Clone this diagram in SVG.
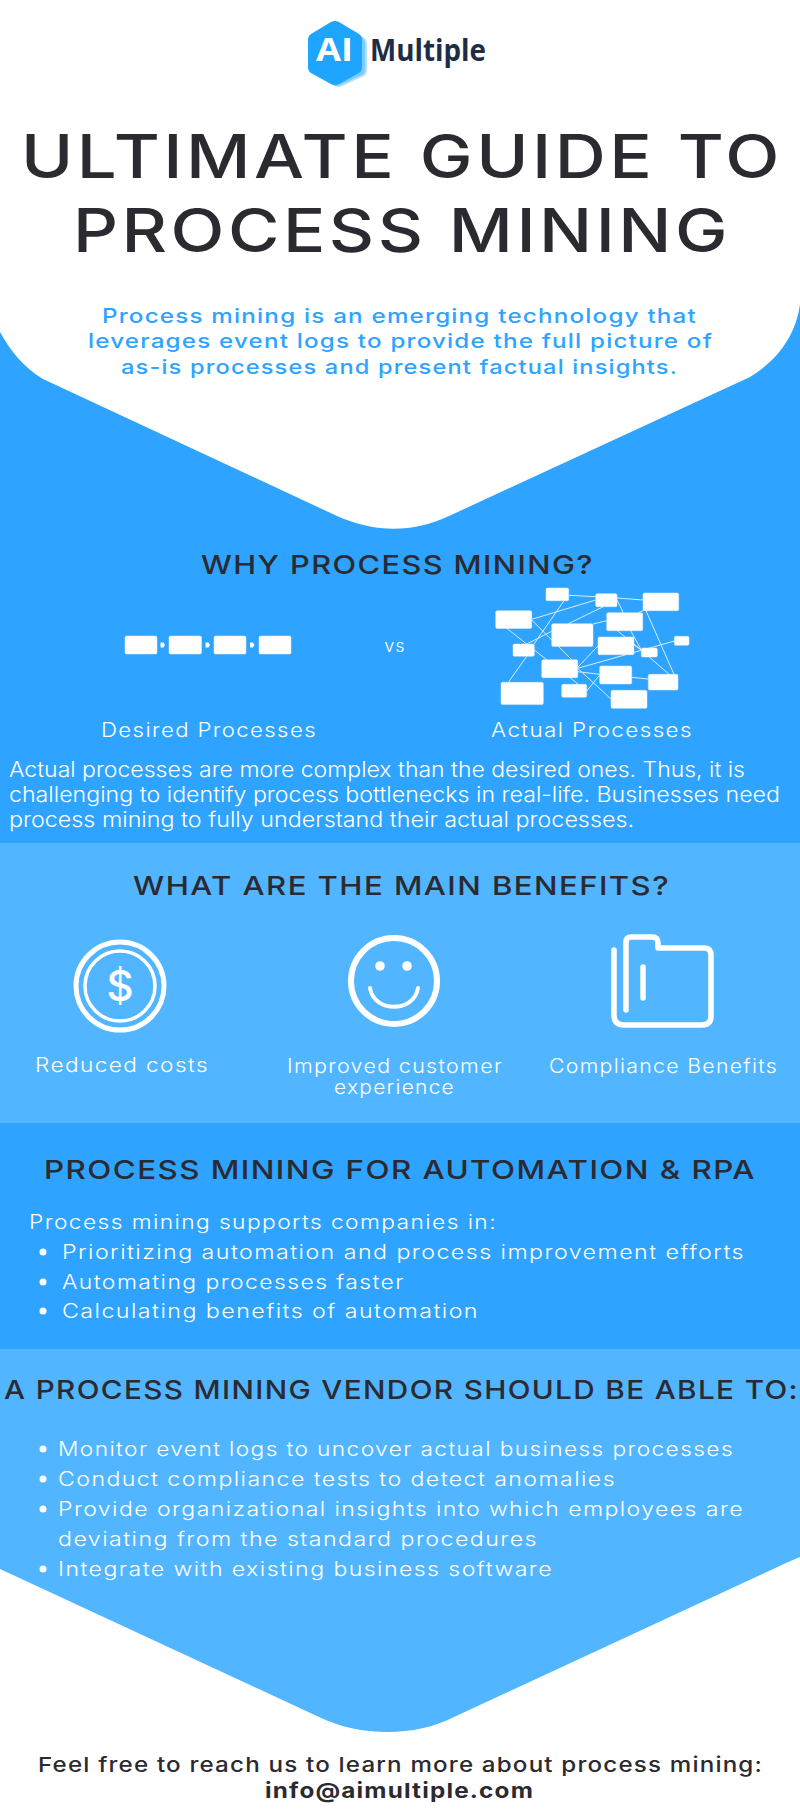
<svg xmlns="http://www.w3.org/2000/svg" width="800" height="1814" viewBox="0 0 800 1814">
<style>
text{font-family:Inter,"Liberation Sans",sans-serif}
.title{font-size:60px;font-weight:450;fill:#2b2a30;letter-spacing:3px}
.h2{font-size:26px;font-weight:500;fill:#2b2a30;letter-spacing:1.200px}
.sub{font-size:20px;font-weight:450;fill:#2ea3ff;letter-spacing:1px}
.body{font-size:19.500px;font-weight:300;fill:#fff;letter-spacing:1.200px}
.para{font-size:21px;letter-spacing:0}
.foot{font-size:20.500px;font-weight:500;fill:#2b2a30;letter-spacing:1px}
.box{fill:#fff;stroke:#e4eef6;stroke-width:.5}
.lnk{stroke:#d6edff;stroke-width:1;fill:none}
.ico{fill:none;stroke:#fff;stroke-linecap:round;stroke-linejoin:round}
.dot{fill:#fff}
</style>
<rect width="800" height="1814" fill="#fff"/>
<g id="section-why">
<path d="M0 332C10 350 24 368 43 379L337 516C375 533 413 533 449 516L750 377C778 360 796 335 800 304V843H0Z" fill="#2ea3ff"/>
</g>
<g id="section-benefits"><rect y="843" width="800" height="280" fill="#52b5ff"/></g>
<g id="section-automation"><rect y="1123" width="800" height="226" fill="#2ea3ff"/></g>
<g id="section-vendor">
<path d="M0 1349H800V1557L786 1563L454 1717C415 1737 360 1737 319 1717L0 1569Z" fill="#52b5ff"/>
</g>
<g id="logo">
<path d="M338 23L364 38Q367 40 367 44V70Q367 74 364 76L342 86Q339 88 335 86L313 73Q310 71 310 67V40Z" fill="#b5e1ff"/>
<path d="M336 22L362 37Q365 39 365 43V69Q365 73 362 75L340 85Q337 87 333 85L312 72Q309 70 309 66V39Z" fill="#7ccbff"/>
<path d="M331 22Q335 20 339 22L359 34Q362 36 362 40V67Q362 71 359 73L339 84Q335 86 331 84L311 73Q308 71 308 67V40Q308 36 311 34Z" fill="#1ea5ff"/>
<text x="316" y="61" font-size="32" font-weight="700" fill="#fff" textLength="37" lengthAdjust="spacingAndGlyphs" style="font-family:'Open Sans',sans-serif">AI</text>
<text x="370" y="61" font-size="31" font-weight="700" fill="#1e2d45" textLength="116" lengthAdjust="spacingAndGlyphs" style="font-family:'Open Sans',sans-serif">Multiple</text>
</g>
<g id="title">
<text class="title" x="21" y="178" textLength="762" lengthAdjust="spacingAndGlyphs">ULTIMATE GUIDE TO</text>
<text class="title" x="73" y="252" textLength="658" lengthAdjust="spacingAndGlyphs">PROCESS MINING</text>
</g>
<g id="intro">
<text class="sub" x="102" y="322.500" textLength="595" lengthAdjust="spacingAndGlyphs">Process mining is an emerging technology that</text>
<text class="sub" x="88" y="348" textLength="625" lengthAdjust="spacingAndGlyphs">leverages event logs to provide the full picture of</text>
<text class="sub" x="121" y="374" textLength="557" lengthAdjust="spacingAndGlyphs">as-is processes and present factual insights.</text>
</g>
<text id="why-heading" class="h2" x="201" y="574" textLength="393" lengthAdjust="spacingAndGlyphs">WHY PROCESS MINING?</text>
<g id="connectors">
<g class="lnk">
<line x1="568.700" y1="595.300" x2="595.700" y2="596.700"/>
<line x1="617" y1="598" x2="643" y2="600"/>
<line x1="564" y1="600.700" x2="534" y2="644"/>
<line x1="531.700" y1="619.300" x2="595.700" y2="600"/>
<line x1="568.300" y1="623.700" x2="603.300" y2="606.700"/>
<line x1="617" y1="600" x2="623.300" y2="612.700"/>
<line x1="638.300" y1="612.700" x2="643" y2="610.700"/>
<line x1="593" y1="624" x2="606.700" y2="620.700"/>
<line x1="506.700" y1="628.300" x2="526.700" y2="644"/>
<line x1="531.700" y1="620" x2="551.700" y2="640"/>
<line x1="526.700" y1="644" x2="551.700" y2="631.300"/>
<line x1="526.700" y1="656.300" x2="508.300" y2="682.300"/>
<line x1="534.300" y1="650" x2="546.700" y2="659.700"/>
<line x1="558.300" y1="646.300" x2="571.700" y2="659.700"/>
<line x1="577.700" y1="667.300" x2="598" y2="646"/>
<line x1="577.700" y1="668.300" x2="674.300" y2="641"/>
<line x1="577.700" y1="671.700" x2="599.700" y2="674.300"/>
<line x1="570" y1="677.700" x2="578.300" y2="684.300"/>
<line x1="577.700" y1="668.300" x2="611" y2="699"/>
<line x1="586.700" y1="691" x2="599.700" y2="675"/>
<line x1="631.700" y1="677.300" x2="648.300" y2="679"/>
<line x1="617.300" y1="630.700" x2="641.300" y2="650"/>
<line x1="630.700" y1="630.700" x2="641.300" y2="650"/>
<line x1="649.300" y1="657" x2="669" y2="674.300"/>
<line x1="646" y1="610.700" x2="674" y2="674.300"/>
<line x1="634" y1="645" x2="641.300" y2="650"/>
</g>
<g fill="#fff">
<path d="M160.500 642.500h3l1.500 2.500l-1.500 2.500h-3z"/>
<path d="M205.500 642.500h3l1.500 2.500l-1.500 2.500h-3z"/>
<path d="M250 642.500h3l1.500 2.500l-1.500 2.500h-3z"/>
</g>
</g>
<g id="desired-1"><rect class="box" x="125" y="636" width="32" height="18" rx="1.500"/></g>
<g id="desired-2"><rect class="box" x="169" y="636" width="32.500" height="18" rx="1.500"/></g>
<g id="desired-3"><rect class="box" x="214" y="636" width="32" height="18" rx="1.500"/></g>
<g id="desired-4"><rect class="box" x="259" y="636" width="32" height="18" rx="1.500"/></g>
<text id="vs" class="body" x="395" y="652" text-anchor="middle" style="font-size:18px;letter-spacing:1px">vs</text>
<g id="actual-a"><rect class="box" x="546" y="588" width="22.700" height="12.700" rx="1.500"/></g>
<g id="actual-b"><rect class="box" x="595.700" y="593.700" width="21.300" height="13" rx="1.500"/></g>
<g id="actual-c"><rect class="box" x="643" y="593" width="35.700" height="17.700" rx="1.500"/></g>
<g id="actual-d"><rect class="box" x="495.700" y="610.700" width="36" height="17.700" rx="1.500"/></g>
<g id="actual-e"><rect class="box" x="606.700" y="612.700" width="36" height="18" rx="1.500"/></g>
<g id="actual-f"><rect class="box" x="551.700" y="623.700" width="41.300" height="22.700" rx="1.500"/></g>
<g id="actual-g"><rect class="box" x="598" y="637" width="36" height="17.700" rx="1.500"/></g>
<g id="actual-h"><rect class="box" x="674.300" y="636.300" width="14.700" height="9" rx="1.500"/></g>
<g id="actual-i"><rect class="box" x="513" y="644" width="21.300" height="12.300" rx="1.500"/></g>
<g id="actual-j"><rect class="box" x="641.300" y="648" width="16" height="9" rx="1.500"/></g>
<g id="actual-k"><rect class="box" x="541.700" y="659.700" width="36" height="18" rx="1.500"/></g>
<g id="actual-l"><rect class="box" x="599.700" y="666" width="32" height="18" rx="1.500"/></g>
<g id="actual-m"><rect class="box" x="648.300" y="674.300" width="29.700" height="15.700" rx="1.500"/></g>
<g id="actual-n"><rect class="box" x="561.700" y="684.300" width="25" height="13" rx="1.500"/></g>
<g id="actual-o"><rect class="box" x="501" y="682.300" width="42.300" height="22.300" rx="1.500"/></g>
<g id="actual-p"><rect class="box" x="611" y="690.300" width="36" height="18" rx="1.500"/></g>
<g id="why-labels">
<text class="body" x="101" y="737" textLength="216" lengthAdjust="spacingAndGlyphs">Desired Processes</text>
<text class="body" x="491" y="737" textLength="202" lengthAdjust="spacingAndGlyphs">Actual Processes</text>
<text class="body para" x="9" y="777" textLength="736" lengthAdjust="spacingAndGlyphs">Actual processes are more complex than the desired ones. Thus, it is</text>
<text class="body para" x="9" y="802" textLength="771" lengthAdjust="spacingAndGlyphs">challenging to identify process bottlenecks in real-life. Businesses need</text>
<text class="body para" x="9" y="827" textLength="625" lengthAdjust="spacingAndGlyphs">process mining to fully understand their actual processes.</text>
</g>
<text id="benefits-heading" class="h2" x="133" y="895" textLength="537" lengthAdjust="spacingAndGlyphs">WHAT ARE THE MAIN BENEFITS?</text>
<g id="benefit-costs">
<circle class="ico" cx="120" cy="986" r="44" stroke-width="5"/>
<circle class="ico" cx="120" cy="986" r="35" stroke-width="3.500"/>
<text x="120" y="1001" text-anchor="middle" font-size="42" font-weight="500" fill="#fff">$</text>
<text class="body" x="35" y="1072" textLength="174" lengthAdjust="spacingAndGlyphs">Reduced costs</text>
</g>
<g id="benefit-customer">
<circle class="ico" cx="394" cy="981" r="43" stroke-width="6"/>
<circle class="dot" cx="380" cy="966" r="4.800"/>
<circle class="dot" cx="407" cy="966" r="4.800"/>
<path class="ico" d="M370 988C374 1013 414 1013 418 988" stroke-width="4"/>
<text class="body" x="287" y="1073" textLength="216" lengthAdjust="spacingAndGlyphs">Improved customer</text>
<text class="body" x="334" y="1094" textLength="121" lengthAdjust="spacingAndGlyphs">experience</text>
</g>
<g id="benefit-compliance">
<path class="ico" d="M614 950V1015Q614 1025 624 1025H702Q711 1025 711 1016V955Q711 948 704 948H658V943Q658 937 652 937H631Q626 937 626 942V1010" stroke-width="5.500"/>
<path class="ico" d="M643 967V998" stroke-width="5.500"/>
<text class="body" x="549" y="1073" textLength="229" lengthAdjust="spacingAndGlyphs">Compliance Benefits</text>
</g>
<g id="automation">
<text class="h2" x="44" y="1179" textLength="712" lengthAdjust="spacingAndGlyphs">PROCESS MINING FOR AUTOMATION &amp; RPA</text>
<text class="body" x="29" y="1229" textLength="468" lengthAdjust="spacingAndGlyphs">Process mining supports companies in:</text>
<circle class="dot" cx="43" cy="1252" r="3.500"/>
<text class="body" x="62" y="1259" textLength="683" lengthAdjust="spacingAndGlyphs">Prioritizing automation and process improvement efforts</text>
<circle class="dot" cx="43" cy="1282" r="3.500"/>
<text class="body" x="62" y="1289" textLength="343" lengthAdjust="spacingAndGlyphs">Automating processes faster</text>
<circle class="dot" cx="43" cy="1311" r="3.500"/>
<text class="body" x="62" y="1318" textLength="417" lengthAdjust="spacingAndGlyphs">Calculating benefits of automation</text>
</g>
<g id="vendor">
<text class="h2" x="4" y="1399" textLength="795" lengthAdjust="spacingAndGlyphs">A PROCESS MINING VENDOR SHOULD BE ABLE TO:</text>
<circle class="dot" cx="43" cy="1449" r="3.500"/>
<text class="body" x="58" y="1456" textLength="676" lengthAdjust="spacingAndGlyphs">Monitor event logs to uncover actual business processes</text>
<circle class="dot" cx="43" cy="1479" r="3.500"/>
<text class="body" x="58" y="1486" textLength="558" lengthAdjust="spacingAndGlyphs">Conduct compliance tests to detect anomalies</text>
<circle class="dot" cx="43" cy="1509" r="3.500"/>
<text class="body" x="58" y="1516" textLength="686" lengthAdjust="spacingAndGlyphs">Provide organizational insights into which employees are</text>
<text class="body" x="58" y="1546" textLength="480" lengthAdjust="spacingAndGlyphs">deviating from the standard procedures</text>
<circle class="dot" cx="43" cy="1569" r="3.500"/>
<text class="body" x="58" y="1576" textLength="495" lengthAdjust="spacingAndGlyphs">Integrate with existing business software</text>
</g>
<g id="footer">
<text class="foot" x="38" y="1772" textLength="725" lengthAdjust="spacingAndGlyphs">Feel free to reach us to learn more about process mining:</text>
<text class="foot" x="265" y="1798" textLength="269" lengthAdjust="spacingAndGlyphs" style="font-weight:700">info@aimultiple.com</text>
</g>
</svg>
